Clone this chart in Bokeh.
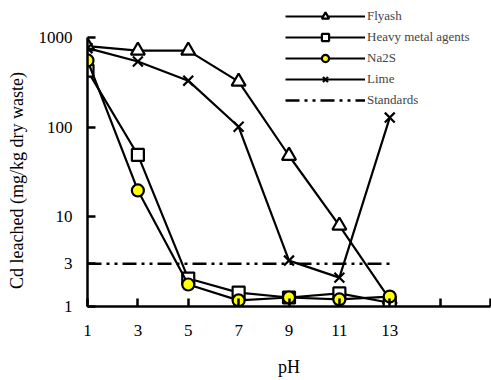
from bokeh.plotting import figure
from bokeh.models import Range1d, FixedTicker, Legend, LegendItem
from bokeh.embed import file_html
from bokeh.resources import INLINE

ph = [1, 3, 5, 7, 9, 11, 13]
flyash = [800, 715, 715, 322, 48, 8.0, 1.2]
heavy_metal = [427, 49, 2.05, 1.43, 1.26, 1.4, 1.1]
na2s = [555, 19.7, 1.76, 1.17, 1.26, 1.2, 1.29]
lime = [760, 540, 330, 101, 3.25, 2.1, 128]
standard_x = [1, 13]
standard_y = [3, 3]
x_ticks = [1, 3, 5, 7, 9, 11, 13, 15, 17]
y_ticks = [1, 3, 10, 100, 1000]

SERIF = "Liberation Serif"

p = figure(width=491, height=380, output_backend="svg", toolbar_location=None,
           x_range=Range1d(1, 17), y_range=Range1d(1, 2586), y_axis_type="log",
           min_border_left=87, min_border_bottom=74, min_border_top=0, min_border_right=1)
p.outline_line_color = None
p.grid.visible = False
p.background_fill_color = "white"
p.border_fill_color = "white"

for ax in (p.xaxis[0], p.yaxis[0]):
    ax.axis_line_width = 2.5
    ax.axis_line_color = "black"
    ax.major_tick_line_width = 2.5
    ax.major_tick_in = 8
    ax.major_tick_out = 0
    ax.minor_tick_line_color = None
    ax.major_label_text_font = SERIF
    ax.major_label_text_font_size = "17px"
    ax.major_label_text_color = "black"
    ax.axis_label_text_font = SERIF
    ax.axis_label_text_font_size = "18px"
    ax.axis_label_text_font_style = "normal"
    ax.axis_label_text_color = "black"

p.xaxis.major_label_standoff = 18
p.yaxis.major_label_standoff = 15
p.yaxis.bounds = (1, 1000)
p.xaxis.ticker = FixedTicker(ticks=x_ticks)
p.xaxis.major_label_overrides = {15: "", 17: ""}
p.yaxis.ticker = FixedTicker(ticks=y_ticks)
p.yaxis.major_label_overrides = {t: str(t) for t in y_ticks}
p.xaxis.axis_label = "pH"
p.yaxis.axis_label = "Cd leached (mg/kg dry waste)" + "\u00a0" * 12
p.xaxis.axis_label_standoff = 18
p.yaxis.axis_label_standoff = 9

lw = 2.2
std = p.line(standard_x, standard_y, line_color="black", line_width=2.5, line_dash="14 5 3 5 3 5")

items = []
series = [
    ("Flyash", flyash, "triangle", "white", 14),
    ("Heavy metal agents", heavy_metal, "square", "white", 12),
    ("Na2S", na2s, "circle", "yellow", 12),
    ("Lime", lime, "x", "black", 14),
]
for label, ys, marker, fill, size in series:
    r1 = p.line(ph, ys, line_color="black", line_width=lw)
    r2 = p.scatter(ph, ys, marker=marker, size=size, fill_color=fill,
                   line_color="black", line_width=2.2)
    items.append(LegendItem(label=label, renderers=[r1, r2]))
items.append(LegendItem(label="Standards", renderers=[std]))

legend = Legend(items=items, location=(198, 197), glyph_width=80, glyph_height=18,
                label_height=18, spacing=3, padding=0, margin=0,
                label_text_font=SERIF, label_text_font_size="13px",
                label_standoff=2, border_line_color=None,
                background_fill_alpha=0)
p.add_layout(legend, "center")

open("out.html", "w").write(file_html(p, INLINE))
